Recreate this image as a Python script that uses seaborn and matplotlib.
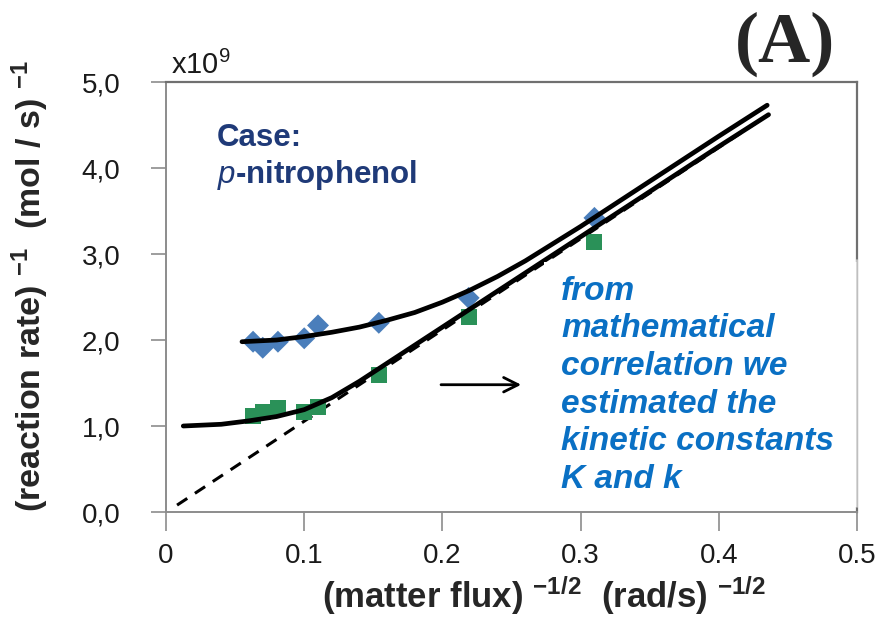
import numpy as np
import pandas as pd
import matplotlib
matplotlib.use("Agg")
import matplotlib.pyplot as plt
from matplotlib.patches import Rectangle
from matplotlib.lines import Line2D
import seaborn as sns

# Measured points: inverse square-root rotation rate vs inverse reaction rate (x10^9)
flux_x = [0.063, 0.070, 0.081, 0.100, 0.110, 0.154, 0.219, 0.310]
diamond_y = [1.98, 1.91, 1.98, 2.02, 2.17, 2.20, 2.49, 3.42]
square_y = [1.12, 1.16, 1.21, 1.16, 1.22, 1.59, 2.27, 3.14]

# Fitted correlation curves
upper_x = [0.055, 0.08, 0.10, 0.12, 0.14, 0.16, 0.18, 0.20, 0.22, 0.24,
           0.26, 0.28, 0.30, 0.32, 0.34, 0.36, 0.38, 0.40, 0.435]
upper_y = [1.98, 2.00, 2.04, 2.09, 2.15, 2.23, 2.32, 2.44, 2.58, 2.74,
           2.92, 3.12, 3.32, 3.53, 3.74, 3.95, 4.16, 4.37, 4.73]
lower_x = [0.0125, 0.04, 0.06, 0.08, 0.10, 0.12, 0.14, 0.16, 0.18, 0.20,
           0.22, 0.24, 0.26, 0.28, 0.30, 0.32, 0.34, 0.36, 0.38, 0.40, 0.436]
lower_y = [1.00, 1.02, 1.06, 1.11, 1.19, 1.33, 1.52, 1.73, 1.94, 2.15,
           2.36, 2.57, 2.78, 2.99, 3.20, 3.41, 3.62, 3.83, 4.04, 4.25, 4.62]
# Linear asymptote through the origin
asym_x = [0.008, 0.436]
asym_y = [0.08, 4.62]

y_ticks = [0, 1, 2, 3, 4, 5]
y_ticklabels = ["0,0", "1,0", "2,0", "3,0", "4,0", "5,0"]
x_ticks = [0, 0.1, 0.2, 0.3, 0.4, 0.5]
x_ticklabels = ["0", "0.1", "0.2", "0.3", "0.4", "0.5"]

sns.set_theme(style="white")
plt.rcParams["font.family"] = ["Liberation Sans", "DejaVu Sans"]
plt.rcParams["mathtext.fontset"] = "custom"
plt.rcParams["mathtext.rm"] = "Liberation Sans"
plt.rcParams["mathtext.bf"] = "Liberation Sans:bold"
plt.rcParams["mathtext.it"] = "Liberation Sans:italic"

fig = plt.figure(figsize=(8.81, 6.21), dpi=100)
ax = fig.add_axes([166 / 881, 1 - 512 / 621, 691 / 881, 430 / 621])

pts = pd.DataFrame({"x": flux_x, "diamond": diamond_y, "square": square_y})
up = pd.DataFrame({"x": upper_x, "y": upper_y})
lo = pd.DataFrame({"x": lower_x, "y": lower_y})
asym = pd.DataFrame({"x": asym_x, "y": asym_y})

sns.lineplot(data=asym, x="x", y="y", ax=ax, color="black", lw=2.2,
             linestyle=(0, (4, 3)), sort=False, estimator=None, zorder=1.5)
sns.scatterplot(data=pts, x="x", y="diamond", ax=ax, marker="D", s=125,
                color="#4a7ebb", edgecolor="none", zorder=1.8)
sns.scatterplot(data=pts, x="x", y="square", ax=ax, marker="s", s=135,
                color="#2a9158", edgecolor="none", zorder=1.8)
sns.lineplot(data=up, x="x", y="y", ax=ax, color="black", lw=3.4,
             sort=False, estimator=None, zorder=2)
sns.lineplot(data=lo, x="x", y="y", ax=ax, color="black", lw=3.4,
             sort=False, estimator=None, zorder=2)

ax.set_xlim(0, 0.5)
ax.set_ylim(0, 5)
ax.set_xticks(x_ticks)
ax.set_xticklabels(x_ticklabels)
ax.set_yticks(y_ticks)
ax.set_yticklabels(y_ticklabels)
ax.tick_params(axis="y", direction="out", length=11, width=1.2,
               color="#8c8c8c", pad=22, labelsize=20, labelcolor="#1a1a1a", left=True)
ax.tick_params(axis="x", direction="out", length=14, width=1.2,
               color="#8c8c8c", pad=8, labelsize=20, labelcolor="#1a1a1a", bottom=True)
for side in ["left", "bottom"]:
    ax.spines[side].set_color("#8c8c8c")
    ax.spines[side].set_linewidth(1.4)
for side in ["top", "right"]:
    ax.spines[side].set_color("#707070")
    ax.spines[side].set_linewidth(1.6)
ax.set_xlabel(r"(matter flux) $^{\mathbf{-1/2}}$  (rad/s) $^{\mathbf{-1/2}}$",
              fontsize=25, fontweight="bold")
ax.set_ylabel(r"(reaction rate) $^{\mathbf{-1}}$  (mol / s) $^{\mathbf{-1}}$",
              fontsize=24.5, fontweight="bold")
ax.xaxis.set_label_coords(0.547, -0.146)
ax.yaxis.set_label_coords(-0.166, 0.526)
ax.grid(False)

# White annotation panel over the lower right of the plot
ax.add_patch(Rectangle((0.2735, 0.06), 0.2265, 2.85, facecolor="white",
                       edgecolor="none", zorder=2.6, transform=ax.transData,
                       clip_on=False))
ax.add_line(Line2D([1, 1], [0.012, 0.585], transform=ax.transAxes,
                   color="#d0d0d0", lw=1.2, zorder=2.7, clip_on=False))

ax.text(0.572, 0.55, "from\nmathematical\ncorrelation we\nestimated the\nkinetic constants\nK and k",
        transform=ax.transAxes, ha="left", va="top", fontsize=24,
        fontweight="bold", fontstyle="italic", color="#0a70c4",
        linespacing=1.28, zorder=3)
ax.text(0.074, 0.905, "Case:\n$\\mathbf{\\mathit{p}}$-nitrophenol", transform=ax.transAxes,
        ha="left", va="top", fontsize=22.5, fontweight="bold", color="#1f3a78",
        linespacing=1.2, zorder=3)

ax.annotate("", xy=(0.259, 1.48), xytext=(0.197, 1.48),
            arrowprops=dict(arrowstyle="->", color="black", lw=2,
                            mutation_scale=26), zorder=3)

fig.text(171 / 881, 1 - 74 / 621, r"x10$^{9}$", fontsize=21, color="#1a1a1a",
         ha="left", va="baseline")
fig.text(785 / 881, 1 - 44 / 621, "(A)", fontsize=52, fontweight="bold",
         family="Liberation Serif", ha="center", va="center")

fig.savefig("out.png", dpi=100)
